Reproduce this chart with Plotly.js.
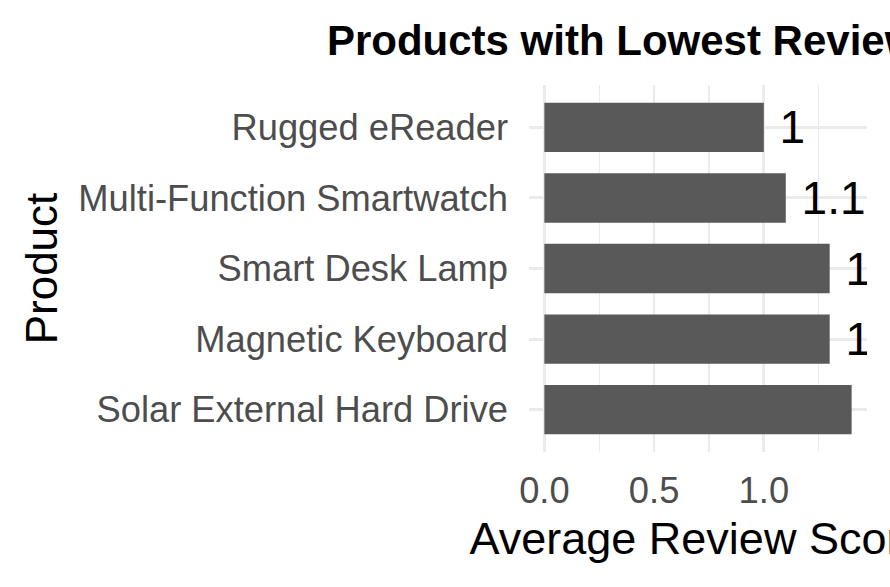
<!DOCTYPE html>
<html>
<head>
<meta charset="utf-8">
<script src="https://cdn.plot.ly/plotly-3.0.1.min.js"></script>
<style>html,body{margin:0;padding:0;background:#fff;}#chart{width:890px;height:587px;}</style>
</head>
<body>
<div id="chart"></div>
<script>
// Data (top to bottom as shown)
const products = ["Rugged eReader", "Multi-Function Smartwatch", "Smart Desk Lamp", "Magnetic Keyboard", "Solar External Hard Drive"];
const avgScores = [1.0, 1.1, 1.3, 1.3, 1.4];
const scoreLabels = ["1", "1.1", "1.3", "1.3", "1.4"];
const xTickVals = [0, 0.5, 1.0];
const xTickText = ["0.0", "0.5", "1.0"];

const FONT = "Liberation Sans, Arial, Helvetica, sans-serif";

const trace = {
  type: "bar",
  orientation: "h",
  x: avgScores,
  y: products,
  text: scoreLabels,
  texttemplate: "\u00a0%{text}",
  textposition: "outside",
  constraintext: "none",
  cliponaxis: true,
  textfont: {family: FONT, size: 46, color: "#000000"},
  marker: {color: "#595959", line: {width: 0}},
  width: 0.7,
  hoverinfo: "x+y"
};

const layout = {
  width: 890,
  height: 587,
  paper_bgcolor: "#ffffff",
  plot_bgcolor: "#ffffff",
  margin: {l: 529, r: 23, t: 85, b: 135},
  showlegend: false,
  title: {
    text: "<b>Products with Lowest Review Scores</b>",
    font: {family: FONT, size: 42, color: "#000000"},
    x: 0.5, xref: "paper", xanchor: "center",
    y: 1 - 40/587, yref: "container", yanchor: "middle"
  },
  xaxis: {
    range: [-0.07, 1.47],
    tickvals: xTickVals,
    ticktext: xTickText,
    showgrid: true,
    gridcolor: "#EBEBEB",
    gridwidth: 2.8,
    minor: {dtick: 0.25, tick0: 0, showgrid: true, gridcolor: "#EBEBEB", gridwidth: 1.4},
    zeroline: false,
    showline: false,
    ticks: "",
    ticklabelstandoff: 14,
    tickfont: {family: FONT, size: 36.3, color: "#4D4D4D"},
    title: {text: "Average Review Score", font: {family: FONT, size: 45, color: "#000000"}, standoff: 12},
    fixedrange: true
  },
  yaxis: {
    type: "category",
    categoryorder: "array",
    categoryarray: products,
    autorange: false,
    range: [4.6, -0.6],
    showgrid: true,
    gridcolor: "#EBEBEB",
    gridwidth: 3,
    zeroline: false,
    showline: false,
    ticks: "",
    ticklabelstandoff: 20,
    tickfont: {family: FONT, size: 36.3, color: "#4D4D4D"},
    title: {text: "Product", font: {family: FONT, size: 44, color: "#000000"}, standoff: 6},
    fixedrange: true
  },
  bargap: 0.3
};

Plotly.newPlot("chart", [trace], layout, {displayModeBar: false, staticPlot: true});
</script>
</body>
</html>
